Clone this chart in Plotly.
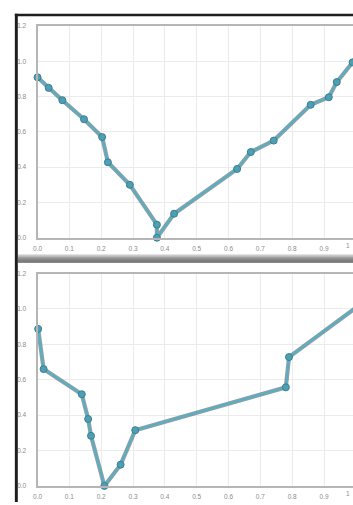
import plotly.graph_objects as go

# ---- data ----
top_x = [0.0, 0.035, 0.078, 0.146, 0.203, 0.221, 0.290, 0.375, 0.375, 0.429, 0.627, 0.670, 0.742, 0.858, 0.915, 0.940, 0.990]
top_y = [0.91, 0.85, 0.78, 0.672, 0.571, 0.428, 0.300, 0.074, 0.0, 0.136, 0.390, 0.486, 0.551, 0.754, 0.797, 0.883, 0.995]

bot_x = [0.002, 0.019, 0.139, 0.159, 0.168, 0.210, 0.261, 0.307, 0.780, 0.790, 0.995]
bot_y = [0.887, 0.660, 0.518, 0.378, 0.283, 0.0, 0.120, 0.315, 0.557, 0.728, 1.0]

x_ticks = [0.0, 0.1, 0.2, 0.3, 0.4, 0.5, 0.6, 0.7, 0.8, 0.9]
y_ticks = [0.0, 0.2, 0.4, 0.6, 0.8, 1.0, 1.2]
edge_label = "1"

W, H = 353, 505
X_RANGE = [0.0, 0.991]
Y_RANGE = [0.0, 1.2]
x_dom = [33 / W, 1.0]
top_dom = [1 - 237 / H, 1 - 22.5 / H]
bot_dom = [1 - 488.7 / H, 1 - 273.3 / H]

LINE = "#5aaec2"
SHADOW = "rgba(80,100,108,0.62)"
MARK = "#4e9fb4"
MARK_EDGE = "#3a7f92"
TICKFONT = dict(family="Liberation Sans, Arial, sans-serif", size=6.5, color="#8c8c8c")

fig = go.Figure()

for xs, ys, xa, ya in [(top_x, top_y, "x", "y"), (bot_x, bot_y, "x2", "y2")]:
    fig.add_trace(go.Scatter(x=xs, y=ys, xaxis=xa, yaxis=ya, mode="lines",
                             line=dict(color=SHADOW, width=4.2), hoverinfo="skip",
                             cliponaxis=False, showlegend=False))
    fig.add_trace(go.Scatter(x=xs, y=ys, xaxis=xa, yaxis=ya, mode="lines+markers",
                             line=dict(color=LINE, width=2.2),
                             marker=dict(size=7, color=MARK, line=dict(color=MARK_EDGE, width=1)),
                             cliponaxis=False, showlegend=False))

axis_common = dict(showgrid=True, gridcolor="#ebebeb", gridwidth=1, zeroline=False,
                   showline=True, linecolor="#b5b5b5", linewidth=2,
                   tickfont=TICKFONT, tickformat=".1f", ticks="")

fig.update_layout(
    width=W, height=H,
    margin=dict(l=0, r=0, t=0, b=0),
    paper_bgcolor="white", plot_bgcolor="white",
    xaxis=dict(domain=x_dom, range=X_RANGE, tickvals=x_ticks, anchor="y", mirror=True,
               ticklabelstandoff=3, **axis_common),
    yaxis=dict(domain=top_dom, range=Y_RANGE, tickvals=y_ticks, anchor="x",
               ticklabelstandoff=8, **axis_common),
    xaxis2=dict(domain=x_dom, range=X_RANGE, tickvals=x_ticks, anchor="y2", mirror=True,
                ticklabelstandoff=3, **axis_common),
    yaxis2=dict(domain=bot_dom, range=Y_RANGE, tickvals=y_ticks, anchor="x2",
                ticklabelstandoff=8, **axis_common),
)

# "1" tick label at the right edge
for dom in (top_dom, bot_dom):
    fig.add_annotation(x=352 / W, y=dom[0], xref="paper", yref="paper", text=edge_label,
                       showarrow=False, xanchor="right", yanchor="top", yshift=-2,
                       font=TICKFONT)

shapes = []
# separator band between panels (gradient from light to dark)
band_top, band_bot = 254, 262.7
cols = ["#c8c8c8", "#b0b0b0", "#9a9a9a", "#878787", "#777777", "#6a6a6a", "#606060", "#5a5a5a", "#8a8a8a"]
n = len(cols)
for i, c in enumerate(cols):
    y0 = band_top + (band_bot - band_top) * i / n
    y1 = band_top + (band_bot - band_top) * (i + 1) / n
    shapes.append(dict(type="rect", xref="paper", yref="paper", x0=13 / W, x1=1.0,
                       y0=1 - y1 / H, y1=1 - y0 / H, fillcolor=c, line=dict(width=0), layer="above"))
# black device frame (left and top)
shapes.append(dict(type="rect", xref="paper", yref="paper", x0=10 / W, x1=13 / W, y0=0, y1=1 - 10 / H,
                   fillcolor="#1e1e1e", line=dict(width=0), layer="above"))
shapes.append(dict(type="rect", xref="paper", yref="paper", x0=10 / W, x1=1.0, y0=1 - 12.5 / H, y1=1 - 10 / H,
                   fillcolor="#1e1e1e", line=dict(width=0), layer="above"))
fig.update_layout(shapes=shapes)

fig.write_html(
    "out.html",
    config={"displayModeBar": False},
    post_script="document.body.style.margin='0';document.body.style.padding='0';"
                "document.body.style.overflow='hidden';document.documentElement.style.overflow='hidden';",
)
